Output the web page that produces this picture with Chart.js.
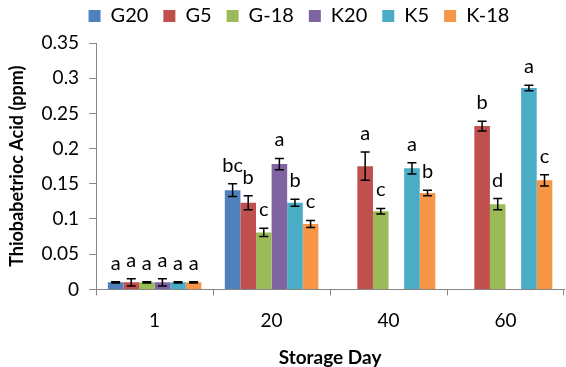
<!DOCTYPE html>
<html lang="en">
<head>
    <meta charset="UTF-8">
    <title>Thiobabetrioc Acid</title>
    <script src="https://cdn.jsdelivr.net/npm/chart.js"></script>
    <style>
        body { margin: 0; background: #fff; }
    </style>
</head>
<body>
<canvas id="tbaChart" width="566" height="367"></canvas>

<script>
    const days = ['1', '20', '40', '60'];
    const seriesNames = ['G20', 'G5', 'G-18', 'K20', 'K5', 'K-18'];
    const seriesColors = ['#4F81BD', '#C0504D', '#9BBB59', '#8064A2', '#4BACC6', '#F79646'];

    const G20 = [0.010, 0.141, null, null];
    const G5 = [0.010, 0.123, 0.175, 0.232];
    const G18 = [0.010, 0.081, 0.111, 0.121];
    const K20 = [0.010, 0.178, null, null];
    const K5 = [0.010, 0.123, 0.172, 0.286];
    const K18 = [0.010, 0.093, 0.137, 0.155];

    const errG20 = [0.001, 0.009, null, null];
    const errG5 = [0.005, 0.010, 0.020, 0.007];
    const errG18 = [0.001, 0.006, 0.004, 0.008];
    const errK20 = [0.005, 0.008, null, null];
    const errK5 = [0.001, 0.005, 0.008, 0.004];
    const errK18 = [0.001, 0.005, 0.004, 0.008];

    const lettersG20 = ['a', 'bc', null, null];
    const lettersG5 = ['a', 'b', 'a', 'b'];
    const lettersG18 = ['a', 'c', 'c', 'd'];
    const lettersK20 = ['a', 'a', null, null];
    const lettersK5 = ['a', 'b', 'a', 'a'];
    const lettersK18 = ['a', 'c', 'b', 'c'];

    const yTicks = [0, 0.05, 0.1, 0.15, 0.2, 0.25, 0.3, 0.35];

    const values = [G20, G5, G18, K20, K5, K18];
    const errors = [errG20, errG5, errG18, errK20, errK5, errK18];
    const letters = [lettersG20, lettersG5, lettersG18, lettersK20, lettersK5, lettersK18];

    const fontFamily = 'Lato, "Open Sans", sans-serif';
    const axisGray = '#868686';

    // error bars + significance letters
    const errorBarPlugin = {
        id: 'errorBars',
        afterDatasetsDraw(chart) {
            const ctx = chart.ctx;
            const y = chart.scales.y;
            ctx.save();
            chart.data.datasets.forEach((ds, i) => {
                const meta = chart.getDatasetMeta(i);
                meta.data.forEach((bar, j) => {
                    const v = ds.data[j];
                    if (v == null) return;
                    const e = errors[i][j] || 0;
                    const top = y.getPixelForValue(v + e);
                    const bot = y.getPixelForValue(v - e);
                    ctx.strokeStyle = '#000';
                    ctx.lineWidth = 1.5;
                    ctx.beginPath();
                    ctx.moveTo(bar.x, top);
                    ctx.lineTo(bar.x, bot);
                    ctx.moveTo(bar.x - 4.5, top);
                    ctx.lineTo(bar.x + 4.5, top);
                    ctx.moveTo(bar.x - 4.5, bot);
                    ctx.lineTo(bar.x + 4.5, bot);
                    ctx.stroke();

                    const txt = letters[i][j];
                    if (txt) {
                        ctx.fillStyle = '#000';
                        ctx.font = '20px ' + fontFamily;
                        ctx.textAlign = 'center';
                        ctx.textBaseline = 'alphabetic';
                        ctx.fillText(txt, bar.x, top - 12);
                    }
                });
            });
            ctx.restore();
        }
    };

    // a bit more room under the legend, and nudge it right like the original
    const legendTweak = {
        id: 'legendTweak',
        beforeInit(chart) {
            const fit = chart.legend.fit;
            chart.legend.fit = function () {
                fit.bind(chart.legend)();
                this.height += 7;
            };
        },
        afterLayout(chart) {
            chart.legend.left += 14;
            chart.legend.right += 14;
        }
    };

    const datasets = seriesNames.map((name, i) => ({
        label: name,
        data: values[i],
        backgroundColor: seriesColors[i],
        borderWidth: 0,
        categoryPercentage: 0.8,
        barPercentage: 1.0
    }));

    new Chart(document.getElementById('tbaChart').getContext('2d'), {
        type: 'bar',
        data: { labels: days, datasets: datasets },
        plugins: [errorBarPlugin, legendTweak],
        options: {
            responsive: false,
            animation: false,
            layout: { padding: { left: 6, right: 2, top: -9, bottom: -2 } },
            plugins: {
                legend: {
                    position: 'top',
                    labels: {
                        boxWidth: 12,
                        boxHeight: 12,
                        padding: 15,
                        color: '#000',
                        font: { family: fontFamily, size: 20 }
                    }
                },
                tooltip: { enabled: false }
            },
            scales: {
                x: {
                    grid: {
                        display: true,
                        drawOnChartArea: false,
                        drawTicks: true,
                        tickLength: 6,
                        color: axisGray
                    },
                    border: { color: axisGray, width: 1 },
                    ticks: {
                        color: '#000',
                        padding: 14,
                        font: { family: fontFamily, size: 19 }
                    },
                    title: {
                        display: true,
                        text: 'Storage Day',
                        color: '#000',
                        padding: { top: 0, bottom: 0 },
                        font: { family: fontFamily, size: 19, weight: 'bold' }
                    }
                },
                y: {
                    min: 0,
                    max: 0.35,
                    afterBuildTicks(axis) {
                        axis.ticks = yTicks.map(v => ({ value: v }));
                    },
                    grid: {
                        display: true,
                        drawOnChartArea: false,
                        drawTicks: true,
                        tickLength: 7,
                        color: axisGray
                    },
                    border: { color: axisGray, width: 1 },
                    ticks: {
                        color: '#000',
                        padding: 10,
                        font: { family: fontFamily, size: 19 },
                        callback: v => String(Math.round(v * 100) / 100)
                    },
                    title: {
                        display: true,
                        text: 'Thiobabetrioc Acid (ppm)',
                        color: '#000',
                        padding: { top: 0, bottom: 4 },
                        font: { family: fontFamily, size: 18, weight: 'bold' }
                    }
                }
            }
        }
    });
</script>
</body>
</html>
